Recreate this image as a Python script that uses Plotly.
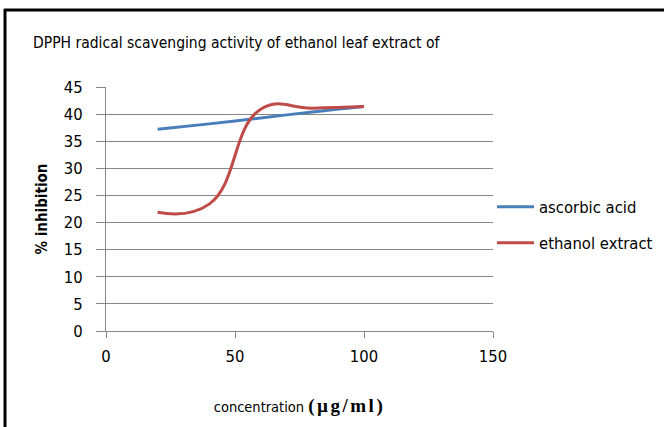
import plotly.graph_objects as go

concentration = [20, 40, 60, 80, 100]
ascorbic_acid = [37.2, 38.2, 39.3, 40.4, 41.4]
ethanol_extract = [21.9, 23.4, 40.9, 41.1, 41.4]

x_ticks = [0, 50, 100, 150]
y_ticks = [0, 5, 10, 15, 20, 25, 30, 35, 40, 45]

FONT = "DejaVu Sans Condensed, Liberation Sans Narrow, sans-serif"
SERIF = "Liberation Serif, DejaVu Serif, serif"
W, H = 664, 427
ML, MR, MT, MB = 106, 171, 87, 96
PW, PH = W - ML - MR, H - MT - MB


def px(xp):
    return (xp - ML) / PW


def py(yp):
    return (H - MB - yp) / PH


fig = go.Figure()
fig.add_trace(go.Scatter(
    x=concentration, y=ascorbic_acid, mode="lines", name="ascorbic acid",
    line=dict(color="#4a7ebb", width=3, shape="spline", smoothing=1.3),
    legend="legend", showlegend=True,
))
fig.add_trace(go.Scatter(
    x=concentration, y=ethanol_extract, mode="lines", name="ethanol extract",
    line=dict(color="#be4b48", width=3, shape="spline", smoothing=1.3),
    legend="legend2", showlegend=True,
))

legend_common = dict(
    font=dict(family=FONT, size=16.5, color="#000000"),
    bgcolor="rgba(0,0,0,0)", xanchor="left", yanchor="middle",
    xref="container", yref="container",
    itemwidth=37, traceorder="normal",
)

fig.update_layout(
    width=W, height=H,
    margin=dict(l=ML, r=MR, t=MT, b=MB, pad=0, autoexpand=False),
    paper_bgcolor="white", plot_bgcolor="white",
    showlegend=True,
    title=dict(
        text="DPPH radical scavenging activity of ethanol leaf extract of",
        font=dict(family=FONT, size=15.5, color="#000000"),
        x=33 / W, xanchor="left", xref="container",
        y=1 - 43 / H, yanchor="middle", yref="container",
    ),
    legend=dict(x=492 / W, y=1 - 207 / H, **legend_common),
    legend2=dict(x=492 / W, y=1 - 243 / H, **legend_common),
    xaxis=dict(
        range=[0, 150], tickvals=x_ticks, ticktext=[str(v) for v in x_ticks],
        showgrid=False, zeroline=False,
        showline=True, linecolor="#868686", linewidth=1,
        ticks="outside", ticklen=6, tickcolor="#868686",
        ticklabelstandoff=4,
        tickfont=dict(family=FONT, size=16.5, color="#000000"),
        title=dict(
            text=("concentration <b><span style='font-family:" + SERIF +
                  ";font-size:19px;letter-spacing:2.5px'>(µg/ml)</span></b>"),
            font=dict(family=FONT, size=14.5, color="#000000"), standoff=37,
        ),
        fixedrange=True,
    ),
    yaxis=dict(
        range=[0, 45], tickvals=y_ticks, ticktext=[str(v) for v in y_ticks],
        showgrid=True, gridcolor="#868686", gridwidth=1,
        zeroline=False,
        showline=True, linecolor="#868686", linewidth=1,
        ticks="outside", ticklen=9, tickcolor="#868686",
        ticklabelstandoff=10,
        tickfont=dict(family=FONT, size=16.5, color="#000000"),
        title=dict(text="<b>% inhibition</b>", font=dict(family=FONT, size=15, color="#000000"), standoff=12),
        fixedrange=True,
    ),
    shapes=[
        dict(type="line", xref="paper", yref="paper", x0=px(4), x1=px(664), y0=py(10), y1=py(10),
             line=dict(color="black", width=3)),
        dict(type="line", xref="paper", yref="paper", x0=px(5), x1=px(5), y0=py(9), y1=py(427),
             line=dict(color="black", width=3)),
    ],
)

fig.write_html("out.html", config={"displayModeBar": False},
               post_script="document.body.style.margin='0';")
